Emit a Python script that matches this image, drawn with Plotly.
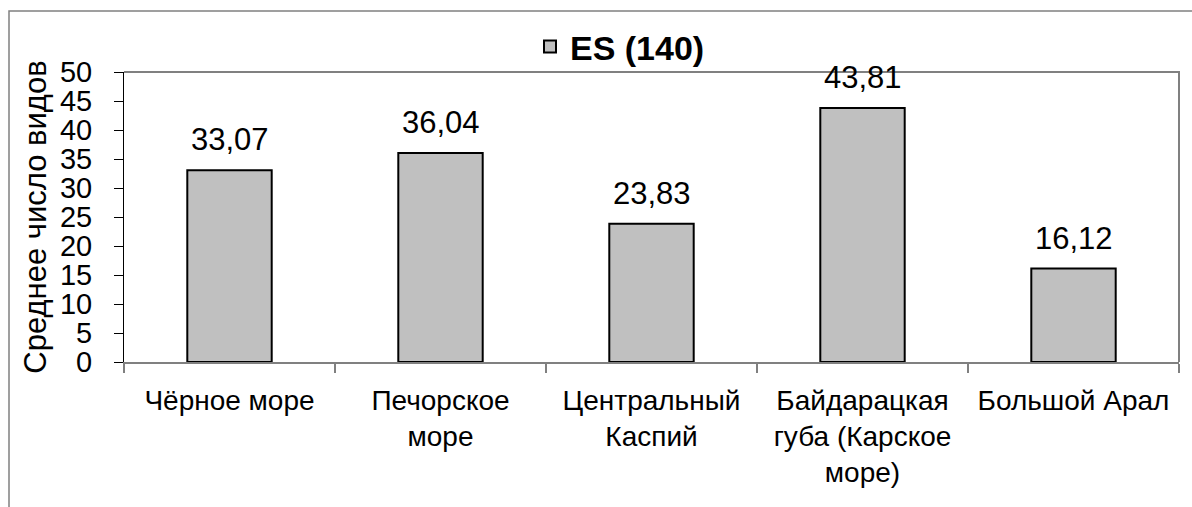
import plotly.graph_objects as go

# Mean number of species per sea area
categories = [
    "Чёрное море",
    "Печорское<br>море",
    "Центральный<br>Каспий",
    "Байдарацкая<br>губа (Карское<br>море)",
    "Большой Арал",
]
values = [33.07, 36.04, 23.83, 43.81, 16.12]
series_name = "ES (140)"
y_title = "Среднее число видов"
y_ticks = [0, 5, 10, 15, 20, 25, 30, 35, 40, 45, 50]

FONT = "Liberation Sans, Arial, sans-serif"
W, H = 1192, 507
L, R, T, B = 124, 13, 72, 145

fig = go.Figure()
fig.add_trace(go.Bar(
    x=categories,
    y=values,
    name=series_name,
    marker=dict(color="#C0C0C0", line=dict(color="#000000", width=2)),
    width=0.4,
    showlegend=True,
))

# value labels above each bar
for c, v in zip(categories, values):
    fig.add_annotation(
        x=c, y=v, xref="x", yref="y",
        text=f"{v:.2f}".replace(".", ","),
        showarrow=False, yanchor="bottom", yshift=11,
        font=dict(size=31, color="#000000", family=FONT),
    )

pw = W - L - R
ph = H - T - B
# outer chart frame (extends past the right and bottom edges)
fig.add_shape(
    type="rect", xref="paper", yref="paper",
    x0=(9 - L) / pw, x1=(W + 10 - L) / pw,
    y0=-(B + 10) / ph, y1=(H - 11 - B) / ph,
    line=dict(color="#808080", width=1.5), fillcolor="rgba(0,0,0,0)",
    layer="below",
)
# plot area frame: top and right edges
fig.add_shape(
    type="path", xref="paper", yref="paper",
    path="M 0 1 L 1 1 L 1 0",
    line=dict(color="#808080", width=2),
)

fig.update_layout(
    width=W, height=H,
    margin=dict(l=L, r=R, t=T, b=B),
    paper_bgcolor="#FFFFFF",
    plot_bgcolor="#FFFFFF",
    font=dict(family=FONT, color="#000000"),
    separators=", ",
    legend=dict(
        orientation="h",
        x=(620 - L) / pw, xanchor="center",
        y=(H - B - 47) / ph, yanchor="middle",
        font=dict(size=34, family=FONT, weight="bold"),
        itemwidth=30,
        bgcolor="rgba(0,0,0,0)",
    ),
    xaxis=dict(
        type="category",
        tickson="boundaries",
        ticks="outside",
        ticklen=9,
        tickcolor="#808080",
        tickwidth=1.5,
        showline=True,
        linecolor="#808080",
        linewidth=2,
        showgrid=False,
        tickfont=dict(size=28, family=FONT),
        ticklabelstandoff=12,
    ),
    yaxis=dict(
        range=[0, 50],
        tickvals=y_ticks,
        ticks="outside",
        ticklen=9,
        tickcolor="#000000",
        tickwidth=1,
        showline=True,
        linecolor="#000000",
        linewidth=1,
        showgrid=False,
        zeroline=False,
        tickfont=dict(size=29, family=FONT),
        ticklabelstandoff=16,
        title=dict(text=y_title, font=dict(size=31, family=FONT), standoff=4),
    ),
)

fig.write_html("out.html")
